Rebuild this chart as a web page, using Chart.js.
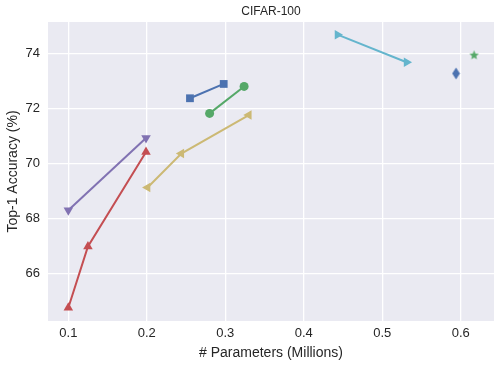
<!DOCTYPE html>
<html>
<head>
<meta charset="utf-8">
<script src="https://cdn.jsdelivr.net/npm/chart.js@4"></script>
<style>
  html, body { margin: 0; padding: 0; background: #fff; }
  #wrap { width: 501px; height: 367px; }
</style>
</head>
<body>
<div id="wrap"><canvas id="cifarChart" width="501" height="367"></canvas></div>
<script>
// series values: [params (M), top-1 accuracy]
const squareX = [0.255, 0.298];
const squareY = [72.37, 72.89];
const circleX = [0.280, 0.324];
const circleY = [71.82, 72.80];
const upX = [0.100, 0.125, 0.199];
const upY = [64.76, 66.99, 70.42];
const downX = [0.100, 0.199];
const downY = [68.30, 70.93];
const leftX = [0.201, 0.244, 0.330];
const leftY = [69.13, 70.36, 71.76];
const rightX = [0.443, 0.531];
const rightY = [74.68, 73.68];
const diamondX = [0.594];
const diamondY = [73.27];
const starX = [0.617];
const starY = [73.94];

const xTicks = [0.1, 0.2, 0.3, 0.4, 0.5, 0.6];
const yTicks = [66, 68, 70, 72, 74];

const FONT = "'Liberation Sans', Arial, sans-serif";
const TXT = '#262626';

function pts(xs, ys) {
    return xs.map((x, i) => ({ x: x, y: ys[i] }));
}

// thin diamond marker
function makeDiamond(color) {
    const c = document.createElement('canvas');
    c.width = 9; c.height = 13;
    const g = c.getContext('2d');
    g.fillStyle = color;
    g.beginPath();
    g.moveTo(4.5, 0.5); g.lineTo(8.3, 6.5); g.lineTo(4.5, 12.5); g.lineTo(0.7, 6.5);
    g.closePath(); g.fill();
    return c;
}

// filled 5-point star marker
function makeStar(color) {
    const c = document.createElement('canvas');
    c.width = 11; c.height = 11;
    const g = c.getContext('2d');
    g.fillStyle = color;
    g.beginPath();
    for (let i = 0; i < 10; i++) {
        const r = i % 2 === 0 ? 5 : 2.2;
        const a = -Math.PI / 2 + i * Math.PI / 5;
        const px = 5.5 + r * Math.cos(a), py = 5.8 + r * Math.sin(a);
        if (i === 0) g.moveTo(px, py); else g.lineTo(px, py);
    }
    g.closePath(); g.fill();
    return c;
}

function series(xs, ys, color, style, radius, rotation) {
    return {
        data: pts(xs, ys),
        showLine: true,
        borderColor: color,
        backgroundColor: color,
        borderWidth: 2,
        pointStyle: style,
        pointRadius: radius,
        pointRotation: rotation || 0,
        pointBorderWidth: 0,
        pointBackgroundColor: color,
        pointBorderColor: color,
        clip: false
    };
}

const bgPlugin = {
    id: 'plotBg',
    beforeDraw(chart) {
        const a = chart.chartArea;
        const ctx = chart.ctx;
        ctx.save();
        ctx.fillStyle = '#EAEAF2';
        ctx.fillRect(a.left, a.top, a.right - a.left, a.bottom - a.top);
        ctx.restore();
    }
};

const ctx = document.getElementById('cifarChart').getContext('2d');
new Chart(ctx, {
    type: 'scatter',
    data: {
        datasets: [
            series(squareX, squareY, '#4C72B0', 'rect', 5.5),
            series(circleX, circleY, '#55A868', 'circle', 4.5),
            series(upX, upY, '#C44E52', 'triangle', 5.5),
            series(downX, downY, '#8172B2', 'triangle', 5.5, 180),
            series(leftX, leftY, '#CCB974', 'triangle', 5.5, 270),
            series(rightX, rightY, '#64B5CD', 'triangle', 5.5, 90),
            series(diamondX, diamondY, '#4C72B0', makeDiamond('#4C72B0'), 6),
            series(starX, starY, '#55A868', makeStar('#55A868'), 6)
        ]
    },
    options: {
        responsive: false,
        animation: false,
        layout: { padding: { left: 0, right: 7, top: 0, bottom: 0 } },
        plugins: {
            legend: { display: false },
            tooltip: { enabled: false },
            title: {
                display: true,
                text: 'CIFAR-100',
                fullSize: false,
                color: TXT,
                font: { family: FONT, size: 12, weight: 'normal', lineHeight: 1.2 },
                padding: { top: 4, bottom: 3.6 }
            }
        },
        scales: {
            x: {
                type: 'linear',
                min: 0.0741,
                max: 0.6424,
                afterBuildTicks: s => { s.ticks = xTicks.map(v => ({ value: v })); },
                afterFit: s => { s.height = 46; },
                grid: { color: '#FFFFFF', lineWidth: 1.3, drawTicks: false },
                border: { display: false },
                ticks: {
                    color: TXT,
                    padding: 5,
                    maxRotation: 0,
                    font: { family: FONT, size: 13 },
                    callback: v => v.toFixed(1)
                },
                title: {
                    display: true,
                    text: '# Parameters (Millions)',
                    color: TXT,
                    font: { family: FONT, size: 14 },
                    padding: { top: 0, bottom: 5 }
                }
            },
            y: {
                type: 'linear',
                min: 64.28,
                max: 75.14,
                afterBuildTicks: s => { s.ticks = yTicks.map(v => ({ value: v })); },
                afterFit: s => { s.width = 48; },
                grid: { color: '#FFFFFF', lineWidth: 1.3, drawTicks: false },
                border: { display: false },
                ticks: {
                    color: TXT,
                    padding: 8,
                    font: { family: FONT, size: 13 },
                    callback: v => String(v)
                },
                title: {
                    display: true,
                    text: 'Top-1 Accuracy (%)',
                    color: TXT,
                    font: { family: FONT, size: 14 },
                    padding: { top: 4.5, bottom: 0 }
                }
            }
        }
    },
    plugins: [bgPlugin]
});
</script>
</body>
</html>
